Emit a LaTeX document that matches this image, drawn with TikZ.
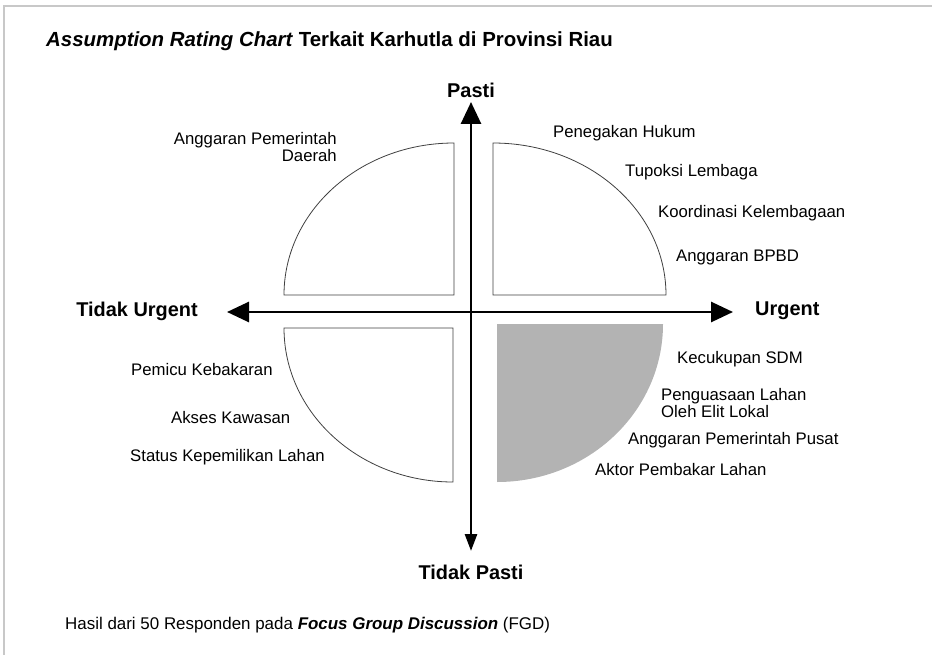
\documentclass[tikz,border=0pt]{standalone}
\usepackage{fontspec}
\setmainfont{Liberation Sans}
\usepackage{tikz}
\usetikzlibrary{arrows.meta,positioning}
\definecolor{quadgray}{HTML}{B3B3B3}
\definecolor{framegray}{HTML}{C8C8C8}
\tikzset{
  axislabel/.style={font=\fontsize{20}{20}\selectfont\bfseries,inner sep=0pt},
  itemlabel/.style={font=\fontsize{16.8}{17}\selectfont,inner sep=0pt,align=left},
  quadrant/.style={draw=black!75,line width=.8bp,fill=white},
  axisline/.style={line width=2.8bp},
  bigtip/.tip={Triangle[length=22bp,width=20bp]},
  smalltip/.tip={Triangle[length=17bp,width=12bp]},
}

\begin{document}
\begin{tikzpicture}[x=1bp,y=-1bp]
      \useasboundingbox (0,0) rectangle (932,655);
      \draw[framegray,line width=1.2bp] (4,655)--(4,6)--(932,6);
      \node[anchor=west,inner sep=0pt,font=\fontsize{20.5}{21}\selectfont\bfseries] (title) at (46,41)
        {\textit{Assumption Rating Chart} Terkait Karhutla di Provinsi Riau};
      % the four quarter shapes
      \draw[quadrant] (454,295)--(454,143) arc[start angle=90,end angle=180,x radius=170bp,y radius=152bp]--cycle;
      \draw[quadrant] (493,295)--(493,143) arc[start angle=90,end angle=0,x radius=173bp,y radius=152bp]--cycle;
      \draw[quadrant] (453,328)--(284,328) arc[start angle=180,end angle=270,x radius=169bp,y radius=154bp]--cycle;
      \fill[quadgray] (497,324)--(663,324) arc[start angle=0,end angle=-90,x radius=166bp,y radius=158bp]--cycle;
      % axes
      \node[axislabel] (pasti) at (471,90) {Pasti};
      \node[axislabel] (tidakpasti) at (471,572) {Tidak Pasti};
      \node[axislabel,anchor=east] (tidakurgent) at (198,311) {Tidak Urgent};
      \node[axislabel,anchor=west] (urgent) at (755,311) {Urgent};
      \coordinate (ytop) at (471,102);
      \coordinate (ybot) at (471,551);
      \coordinate (xlft) at (227,312);
      \coordinate (xrgt) at (733,312);
      \draw[axisline,{smalltip}-{bigtip}] (ybot)--(ytop);
      \draw[axisline,{bigtip}-{bigtip}] (xlft)--(xrgt);
      % labels
      \node[itemlabel,anchor=east,align=right] (apbd) at (337,147) {Anggaran Pemerintah\\Daerah};
      \foreach \nm/\xx/\yy/\lab in {hukum/553/133/{Penegakan Hukum},tupoksi/625/172/{Tupoksi Lembaga},
        koordinasi/658/213/{Koordinasi Kelembagaan},bpbd/676/257/{Anggaran BPBD},
        pemicu/131/370/{Pemicu Kebakaran},akses/171/418/{Akses Kawasan},status/130/457/{Status Kepemilikan Lahan},
        sdm/677/359/{Kecukupan SDM},penguasaan/661/403/{Penguasaan Lahan\\Oleh Elit Lokal},
        apbn/628/440/{Anggaran Pemerintah Pusat},aktor/595/470/{Aktor Pembakar Lahan}}{
        \node[itemlabel,anchor=west] (\nm) at (\xx,\yy) {\lab};
      }
      \node[anchor=west,inner sep=0pt,font=\fontsize{17}{17}\selectfont] (hasil) at (65,625)
        {Hasil dari 50 Responden pada \textbf{\textit{Focus Group Discussion}} (FGD)};
    \end{tikzpicture}
\end{document}
